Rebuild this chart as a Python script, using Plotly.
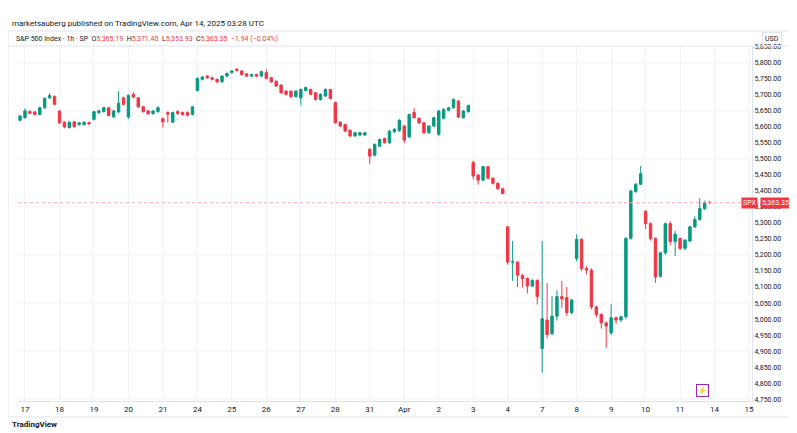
import plotly.graph_objects as go

day_labels = ["17","18","19","20","21","24","25","26","27","28","31","Apr","2","3","4","7","8","9","10","11","14","15"]
price_ticks = [4750 + 50*i for i in range(23)]

opens = [5619,5608,5621, 5629,5648,5647,5639,5660,5691,5695, 5650,5615,5598,5616,5608,5608,5614, 5624,5645,5648,5660,5632,5647,5691, 5631,5702,5691,5663,5650,5642,5648, 5626,5645,5615,5648,5645,5645,5639, 5714,5749,5759,5754,5749,5741,5759, 5770,5781,5775,5766,5759,5764,5759, 5770,5754,5743,5731,5712,5712,5695, 5691,5714,5717,5707,5686,5697,5717, 5676,5615,5608,5590,5572,5575,5575, 5530,5512,5540,5564,5551,5585,5589, 5603,5569,5645,5627,5613,5582,5603, 5577,5627,5652,5660,5681,5629,5648, 5489,5450,5434,5476,5440,5424,5407, 5288,5178,5178,5137,5127,5103,5121, 4908,4997,4954,5009,5070,5067,5020, 5189,5249,5158,5153,5038,5014,4988, 4957,5004,4997,5007,5252,5398,5421, 5337,5298,5252,5134,5207,5298,5242, 5252,5221,5244,5288,5311,5345,5365]
closes = [5608,5621,5634, 5650,5643,5639,5660,5689,5698,5671, 5613,5600,5615,5601,5613,5615,5610, 5648,5650,5660,5636,5650,5674,5671, 5699,5694,5663,5648,5641,5650,5660, 5616,5640,5645,5642,5639,5637,5663, 5752,5756,5754,5749,5741,5759,5767, 5775,5777,5764,5759,5764,5759,5773, 5752,5741,5728,5707,5702,5695,5712, 5717,5723,5702,5686,5702,5717,5689, 5613,5603,5587,5572,5582,5582,5582, 5509,5546,5561,5551,5587,5593,5621, 5559,5639,5629,5613,5582,5603,5629, 5650,5655,5660,5686,5631,5650,5667, 5447,5434,5476,5440,5424,5407,5392, 5178,5179,5137,5126,5103,5121,5070, 5001,4952,5009,5070,5063,5020,5059, 5249,5158,5153,5038,5014,4988,4978, 5004,4997,5007,5252,5400,5421,5454, 5298,5252,5131,5207,5298,5242,5265, 5221,5246,5288,5311,5345,5363,5363.35]
highs = [5622,5624,5638, 5658,5652,5650,5664,5693,5706,5699, 5652,5618,5618,5619,5616,5618,5617, 5650,5655,5663,5662,5654,5712,5695, 5701,5709,5693,5666,5653,5653,5665, 5629,5649,5648,5652,5648,5649,5666, 5754,5760,5762,5757,5751,5762,5770, 5778,5783,5778,5768,5766,5766,5776, 5780,5756,5745,5733,5715,5714,5715, 5720,5727,5720,5709,5705,5721,5719, 5679,5618,5610,5592,5586,5585,5585, 5534,5548,5564,5567,5590,5596,5624, 5607,5642,5660,5630,5615,5605,5632, 5653,5658,5663,5689,5684,5653,5670, 5495,5452,5479,5478,5443,5427,5410, 5291,5244,5180,5140,5130,5124,5123, 5244,5113,5072,5090,5119,5100,5063, 5265,5252,5165,5158,5042,5018,4992, 5046,5008,5010,5256,5404,5425,5478, 5340,5302,5255,5210,5301,5305,5275, 5255,5250,5291,5321,5377,5370,5369]
lows = [5605,5605,5618, 5626,5640,5636,5636,5657,5688,5668, 5610,5596,5595,5597,5604,5604,5606, 5620,5640,5645,5633,5628,5643,5666, 5625,5690,5660,5645,5638,5638,5645, 5598,5613,5612,5638,5635,5633,5636, 5711,5745,5750,5745,5737,5738,5756, 5766,5773,5761,5756,5756,5755,5756, 5749,5738,5725,5704,5698,5690,5692, 5668,5711,5699,5683,5683,5694,5686, 5610,5600,5584,5569,5569,5571,5572, 5485,5508,5537,5548,5547,5582,5585, 5550,5566,5626,5609,5578,5579,5600, 5572,5624,5649,5657,5628,5626,5645, 5436,5420,5431,5436,5420,5404,5390, 5170,5119,5100,5100,5080,5100,5045, 4832,4940,4950,4995,5035,5010,5015, 5180,5150,5140,5030,5005,4970,4910, 4950,4985,4990,5000,5248,5395,5418, 5280,5245,5113,5129,5200,5230,5197, 5215,5215,5240,5284,5307,5340,5360]

GREEN = "#089981"
RED = "#F23645"
W, H = 797, 433
L, R, T, B = 10, 53, 38, 40
OX, OY = 8, 7  # page offset of the figure

def px(x):  # page pixel -> paper
    return (x - OX - L) / (W - L - R)
def py(y):
    return (H - B - (y - OY)) / (H - T - B)

idx = list(range(len(opens)))
fig = go.Figure(go.Candlestick(
    x=idx, open=opens, high=highs, low=lows, close=closes,
    increasing=dict(line=dict(color=GREEN, width=1), fillcolor=GREEN),
    decreasing=dict(line=dict(color=RED, width=1), fillcolor=RED),
    whiskerwidth=0, showlegend=False, hoverinfo="skip"))

tickvals = [3 + 7*d for d in range(len(day_labels))]
fig.update_xaxes(range=[1.58, 150.6], tickvals=tickvals, ticktext=day_labels,
                 showgrid=True, gridcolor="#f0f3fa", gridwidth=1, zeroline=False,
                 rangeslider_visible=False, tickfont=dict(size=8, color="#131722", family="Roboto"),
                 ticks="", showline=True, linecolor="#e0e3eb")
fig.update_yaxes(side="right", range=[4744, 5853], tickvals=price_ticks,
                 ticktext=[f"{v:,.2f}" for v in price_ticks], showgrid=False, zeroline=False,
                 tickfont=dict(size=7, color="#131722", family="Roboto"), ticks="",
                 showline=True, linecolor="#e0e3eb")

shapes = []
for g in [4750, 4900, 5050, 5200, 5350, 5500, 5650, 5800]:
    shapes.append(dict(type="line", xref="paper", yref="y", x0=0, x1=1, y0=g, y1=g,
                       line=dict(color="#f0f3fa", width=1), layer="below"))
shapes.append(dict(type="line", xref="paper", yref="y", x0=0, x1=1, y0=closes[-1], y1=closes[-1],
                   line=dict(color="#f7a9b0", width=1, dash="dot")))
shapes.append(dict(type="rect", xref="paper", yref="paper", x0=px(8), x1=px(790), y0=py(30), y1=py(416),
                   line=dict(color="#e0e3eb", width=1)))
shapes.append(dict(type="line", xref="paper", yref="paper", x0=px(8), x1=px(790), y0=py(45), y1=py(45),
                   line=dict(color="#e0e3eb", width=1)))
fig.update_layout(shapes=shapes)

ann = [
    dict(x=px(10), y=py(22), text="marketsauberg published on TradingView.com, Apr 14, 2025 03:28 UTC",
         font=dict(size=8, color="#131722")),
    dict(x=px(14), y=py(38),
         text=("S&P 500 Index · 1h · SP  O<span style='color:#F23645'>5,365.19</span>"
               "  H<span style='color:#F23645'>5,371.40</span>  L<span style='color:#F23645'>5,353.93</span>"
               "  C<span style='color:#F23645'>5,363.35</span>  <span style='color:#F23645'>−1.94 (−0.04%)</span>"),
         font=dict(size=7, color="#131722")),
    dict(x=px(762), y=py(38), text="USD", font=dict(size=7, color="#131722"),
         bordercolor="#e0e3eb", borderwidth=1, borderpad=2),
    dict(x=px(10), y=py(424), text="<b>TradingView</b>", font=dict(size=8, color="#131722")),
]
for a in ann:
    a.update(xref="paper", yref="paper", xanchor="left", yanchor="middle", showarrow=False,
             font=dict(family="Roboto", **a["font"]))
ann.append(dict(xref="paper", yref="y", x=px(760), y=closes[-1], text="5,363.35", xanchor="left",
                yanchor="middle", showarrow=False, bgcolor=RED, font=dict(size=7, color="white", family="Roboto"),
                borderpad=1))
ann.append(dict(xref="paper", yref="y", x=px(758), y=closes[-1], text="SPX", xanchor="right",
                yanchor="middle", showarrow=False, bgcolor=RED, font=dict(size=7, color="white", family="Roboto"),
                borderpad=1))
ann.append(dict(xref="paper", yref="paper", x=px(709), y=py(396), text="⚡", showarrow=False,
                font=dict(size=7, color="#9c27b0"), bordercolor="#9c27b0", borderwidth=1, borderpad=1))
fig.update_layout(annotations=ann, width=W, height=H,
                  margin=dict(l=L, r=R, t=T, b=B), paper_bgcolor="white", plot_bgcolor="white")
fig.write_html("out.html")
